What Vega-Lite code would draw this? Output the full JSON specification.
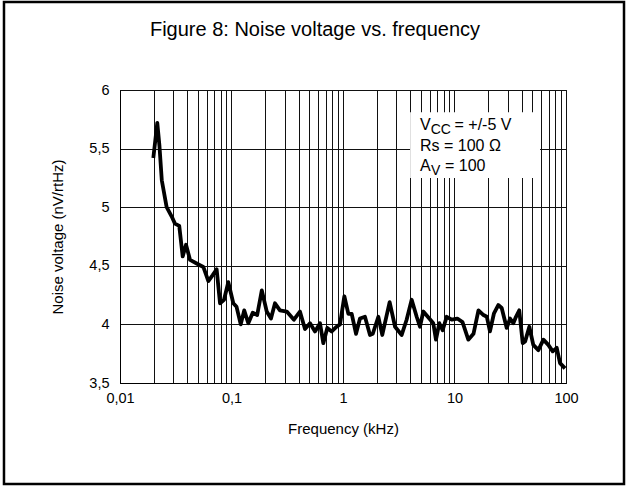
{
  "$schema": "https://vega.github.io/schema/vega-lite/v6.json",
  "width": 446,
  "height": 293,
  "autosize": {"type": "none"},
  "padding": {"left": 120, "top": 90, "right": 64, "bottom": 103},
  "background": "white",
  "config": {"font": "Liberation Sans", "view": {"stroke": "black", "strokeWidth": 1}},
  "datasets": {
    "noise": [
      {"f": 0.0199, "v": 5.42}, {"f": 0.0216, "v": 5.72}, {"f": 0.0226, "v": 5.52}, {"f": 0.0237, "v": 5.23},
      {"f": 0.0262, "v": 5.0}, {"f": 0.0291, "v": 4.92}, {"f": 0.0311, "v": 4.86}, {"f": 0.034, "v": 4.84},
      {"f": 0.0365, "v": 4.58}, {"f": 0.0391, "v": 4.68}, {"f": 0.0425, "v": 4.55}, {"f": 0.0487, "v": 4.52},
      {"f": 0.0559, "v": 4.49}, {"f": 0.062, "v": 4.37}, {"f": 0.0678, "v": 4.42}, {"f": 0.0736, "v": 4.47},
      {"f": 0.0789, "v": 4.18}, {"f": 0.0857, "v": 4.21}, {"f": 0.0936, "v": 4.36}, {"f": 0.1038, "v": 4.18},
      {"f": 0.111, "v": 4.15}, {"f": 0.121, "v": 4.0}, {"f": 0.13, "v": 4.12}, {"f": 0.1415, "v": 4.01},
      {"f": 0.155, "v": 4.1}, {"f": 0.17, "v": 4.08}, {"f": 0.187, "v": 4.29}, {"f": 0.207, "v": 4.11},
      {"f": 0.226, "v": 4.05}, {"f": 0.2455, "v": 4.18}, {"f": 0.272, "v": 4.12}, {"f": 0.313, "v": 4.11},
      {"f": 0.363, "v": 4.04}, {"f": 0.411, "v": 4.11}, {"f": 0.456, "v": 3.96}, {"f": 0.506, "v": 4.01},
      {"f": 0.561, "v": 3.94}, {"f": 0.622, "v": 4.01}, {"f": 0.666, "v": 3.84}, {"f": 0.723, "v": 3.97},
      {"f": 0.792, "v": 3.94}, {"f": 0.877, "v": 3.98}, {"f": 0.94, "v": 4.0}, {"f": 1.028, "v": 4.24},
      {"f": 1.117, "v": 4.09}, {"f": 1.197, "v": 4.09}, {"f": 1.309, "v": 3.92}, {"f": 1.42, "v": 4.05},
      {"f": 1.574, "v": 4.065}, {"f": 1.746, "v": 3.91}, {"f": 1.85, "v": 3.92}, {"f": 2.075, "v": 4.065},
      {"f": 2.25, "v": 3.91}, {"f": 2.62, "v": 4.19}, {"f": 2.93, "v": 3.98}, {"f": 3.36, "v": 3.91},
      {"f": 3.72, "v": 4.04}, {"f": 4.13, "v": 4.21}, {"f": 4.58, "v": 4.065}, {"f": 4.9, "v": 3.98},
      {"f": 5.25, "v": 4.11}, {"f": 5.94, "v": 4.05}, {"f": 6.45, "v": 4.01}, {"f": 6.82, "v": 3.87},
      {"f": 7.31, "v": 4.01}, {"f": 7.83, "v": 3.95}, {"f": 8.51, "v": 4.065}, {"f": 9.44, "v": 4.04},
      {"f": 10.6, "v": 4.05}, {"f": 11.8, "v": 4.02}, {"f": 13.3, "v": 3.87}, {"f": 14.8, "v": 3.92},
      {"f": 16.4, "v": 4.12}, {"f": 18.2, "v": 4.08}, {"f": 19.5, "v": 4.065}, {"f": 20.8, "v": 3.94},
      {"f": 22.6, "v": 4.095}, {"f": 24.7, "v": 4.165}, {"f": 26.5, "v": 4.14}, {"f": 29.4, "v": 3.97},
      {"f": 31.5, "v": 4.05}, {"f": 33.7, "v": 4.01}, {"f": 35.6, "v": 4.065}, {"f": 38.1, "v": 4.12},
      {"f": 40.9, "v": 3.84}, {"f": 43.0, "v": 3.855}, {"f": 46.9, "v": 3.98}, {"f": 50.9, "v": 3.825},
      {"f": 56.5, "v": 3.78}, {"f": 62.7, "v": 3.87}, {"f": 69.4, "v": 3.825}, {"f": 76.0, "v": 3.77},
      {"f": 82.6, "v": 3.8}, {"f": 88.4, "v": 3.67}, {"f": 98.0, "v": 3.625}
    ]
  },
  "layer": [
    {
      "data": {"name": "noise"},
      "mark": {"type": "line", "color": "black", "strokeWidth": 3.8, "strokeJoin": "round"},
      "encoding": {
        "x": {
          "field": "f", "type": "quantitative",
          "scale": {"type": "log", "domain": [0.01, 100], "nice": false},
          "axis": {
            "title": "Frequency (kHz)",
            "values": [0.01, 0.02, 0.03, 0.04, 0.05, 0.06, 0.07, 0.08, 0.09, 0.1, 0.2, 0.3, 0.4, 0.5, 0.6, 0.7, 0.8, 0.9, 1, 2, 3, 4, 5, 6, 7, 8, 9, 10, 20, 30, 40, 50, 60, 70, 80, 90, 100],
            "labelExpr": "indexof([0.01, 0.1, 1, 10, 100], datum.value) >= 0 ? replace(toString(datum.value), '.', ',') : ''",
            "grid": true, "gridColor": "#111", "gridOpacity": 1, "gridWidth": 1,
            "ticks": false, "domainColor": "black",
            "labelColor": "black", "labelFontSize": 14.5, "labelPadding": 8, "labelFlush": false, "labelOverlap": false,
            "titleColor": "black", "titleFontSize": 15, "titleFontWeight": "normal", "titlePadding": 17
          }
        },
        "y": {
          "field": "v", "type": "quantitative",
          "scale": {"domain": [3.5, 6], "zero": false, "nice": false},
          "axis": {
            "title": "Noise voltage (nV/rtHz)",
            "values": [3.5, 3.75, 4, 4.25, 4.5, 4.75, 5, 5.25, 5.5, 5.75, 6],
            "labelExpr": "datum.value % 0.5 == 0 ? replace(toString(datum.value), '.', ',') : ''",
            "grid": true, "gridColor": "#111", "gridOpacity": 1, "gridWidth": 1,
            "ticks": false, "domainColor": "black",
            "labelColor": "black", "labelFontSize": 14.5, "labelPadding": 11, "labelFlush": false, "labelOverlap": false,
            "titleColor": "black", "titleFontSize": 15, "titleFontWeight": "normal", "titlePadding": 23
          }
        }
      }
    },
    {
      "data": {"values": [{}]},
      "mark": {"type": "rect", "fill": "white", "strokeWidth": 0},
      "encoding": {
        "x": {"datum": 4.0, "type": "quantitative"}, "x2": {"datum": 58.5},
        "y": {"datum": 5.81, "type": "quantitative"}, "y2": {"datum": 5.25}
      }
    },
    {
      "data": {"values": [{}]},
      "mark": {"type": "text", "align": "left", "baseline": "alphabetic", "fontSize": 16, "color": "black"},
      "encoding": {"x": {"datum": 4.905, "type": "quantitative"}, "y": {"datum": 5.659, "type": "quantitative"}, "text": {"value": "V"}}
    },
    {
      "data": {"values": [{}]},
      "mark": {"type": "text", "align": "left", "baseline": "alphabetic", "fontSize": 14, "dx": 10.7, "dy": 4, "color": "black"},
      "encoding": {"x": {"datum": 4.905, "type": "quantitative"}, "y": {"datum": 5.659, "type": "quantitative"}, "text": {"value": "CC"}}
    },
    {
      "data": {"values": [{}]},
      "mark": {"type": "text", "align": "left", "baseline": "alphabetic", "fontSize": 16, "dx": 34.5, "color": "black"},
      "encoding": {"x": {"datum": 4.905, "type": "quantitative"}, "y": {"datum": 5.659, "type": "quantitative"}, "text": {"value": "= +/-5 V"}}
    },
    {
      "data": {"values": [{}]},
      "mark": {"type": "text", "align": "left", "baseline": "alphabetic", "fontSize": 16, "color": "black"},
      "encoding": {"x": {"datum": 4.905, "type": "quantitative"}, "y": {"datum": 5.4795, "type": "quantitative"}, "text": {"value": "Rs = 100 Ω"}}
    },
    {
      "data": {"values": [{}]},
      "mark": {"type": "text", "align": "left", "baseline": "alphabetic", "fontSize": 16, "color": "black"},
      "encoding": {"x": {"datum": 4.905, "type": "quantitative"}, "y": {"datum": 5.309, "type": "quantitative"}, "text": {"value": "A"}}
    },
    {
      "data": {"values": [{}]},
      "mark": {"type": "text", "align": "left", "baseline": "alphabetic", "fontSize": 14, "dx": 11, "dy": 4, "color": "black"},
      "encoding": {"x": {"datum": 4.905, "type": "quantitative"}, "y": {"datum": 5.309, "type": "quantitative"}, "text": {"value": "V"}}
    },
    {
      "data": {"values": [{}]},
      "mark": {"type": "text", "align": "left", "baseline": "alphabetic", "fontSize": 16, "dx": 25, "color": "black"},
      "encoding": {"x": {"datum": 4.905, "type": "quantitative"}, "y": {"datum": 5.309, "type": "quantitative"}, "text": {"value": "= 100"}}
    },
    {
      "data": {"values": [{}]},
      "mark": {"type": "text", "align": "center", "baseline": "alphabetic", "fontSize": 20, "color": "black"},
      "encoding": {"x": {"datum": 0.5609, "type": "quantitative"}, "y": {"datum": 6.4565, "type": "quantitative"}, "text": {"value": "Figure 8: Noise voltage vs. frequency"}}
    },
    {
      "data": {"values": [{}]},
      "mark": {"type": "rect", "fillOpacity": 0, "stroke": "black", "strokeWidth": 2.5},
      "encoding": {
        "x": {"datum": 0.000911, "type": "quantitative"}, "x2": {"datum": 331.3},
        "y": {"datum": 6.751, "type": "quantitative"}, "y2": {"datum": 2.638}
      }
    }
  ]
}
